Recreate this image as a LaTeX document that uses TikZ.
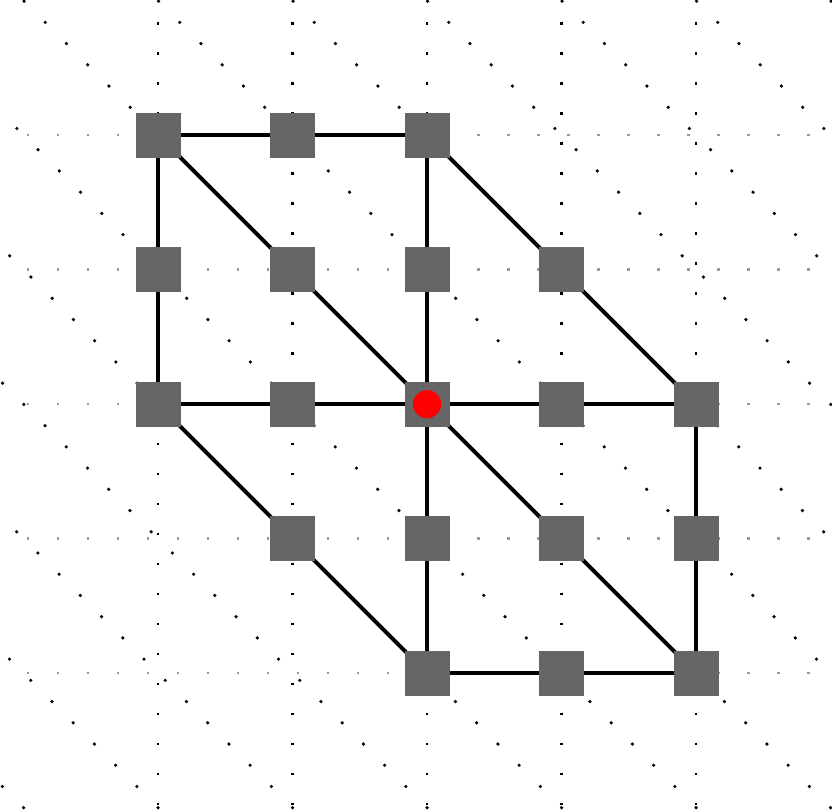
\documentclass[tikz,border=0pt]{standalone}
\begin{document}
\begin{tikzpicture}[
  site/.style={fill=black!60, minimum size=0.67cm, inner sep=0pt},
  bond/.style={line width=1.6pt},
  dotline/.style={line width=1.1pt, dash pattern=on 1.1pt off 11.6pt},
  greydot/.style={dotline, black!40}]
  % canvas
  \useasboundingbox (0,0) rectangle (12.372,-12.045);
  \clip (0,0) rectangle (12.372,-12.045);

  % background guide lines
  \foreach \i in {0,...,4} {
    \draw[dotline] (2.35+2*\i, 1.9) -- (2.35+2*\i, -12.1);
    \draw[greydot] (-0.05, -2.01-2*\i) -- (12.4, -2.01-2*\i);
  }
  \foreach \k in {-6,...,6}
    \draw[dotline] (2.35+2*\k-14, -2.01+14) -- (2.35+2*\k+14, -2.01-14);

  % lattice sites
  \begin{scope}[shift={(2.35,-2.01)}, x=2cm, y=-2cm]
    \foreach \i/\j in {0/0,1/0,2/0, 0/1,1/1,2/1,3/1, 0/2,1/2,2/2,3/2,4/2,
                       1/3,2/3,3/3,4/3, 2/4,3/4,4/4}
      \coordinate (p\i\j) at (\i,\j);

    % bonds
    \draw[bond] (p00) -- (p20) (p02) -- (p42) (p24) -- (p44);
    \draw[bond] (p00) -- (p02) (p20) -- (p24) (p42) -- (p44);
    \draw[bond] (p00) -- (p44) (p20) -- (p42) (p02) -- (p24);

    \foreach \i/\j in {0/0,1/0,2/0, 0/1,1/1,2/1,3/1, 0/2,1/2,2/2,3/2,4/2,
                       1/3,2/3,3/3,4/3, 2/4,3/4,4/4}
      \node[site] (s\i\j) at (p\i\j) {};

    % centre
    \fill[red] (s22.center) circle (0.21cm);
  \end{scope}
\end{tikzpicture}
\end{document}
